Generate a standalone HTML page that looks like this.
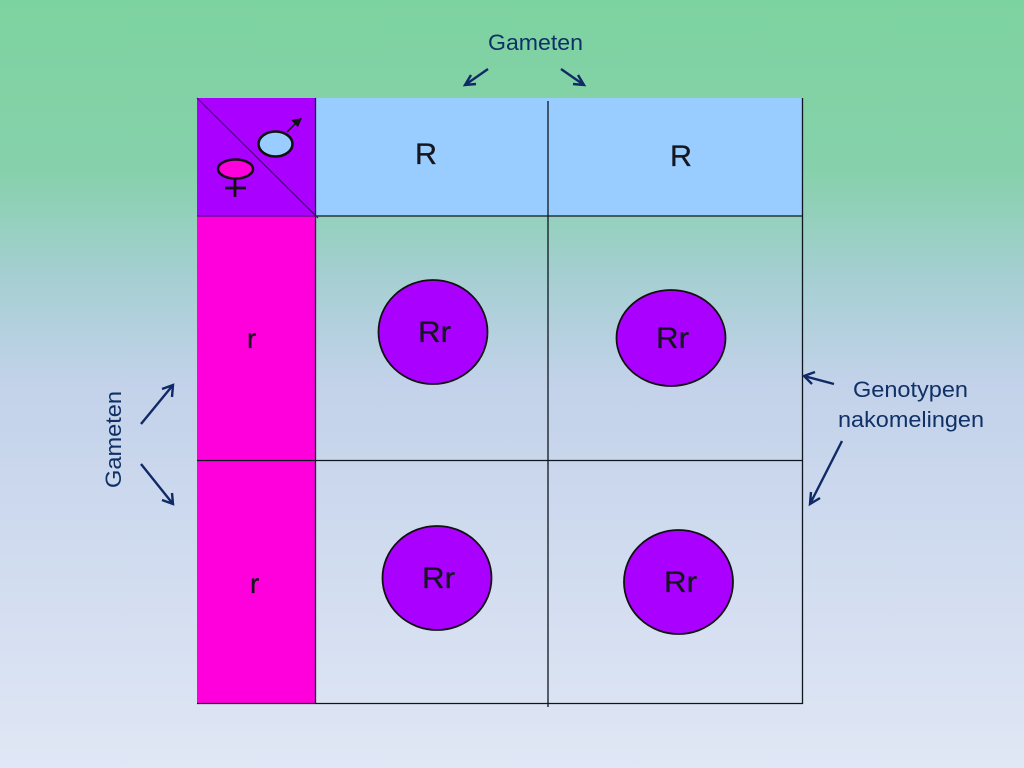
<!DOCTYPE html>
<html>
<head>
<meta charset="utf-8">
<style>
html,body{margin:0;padding:0;width:1024px;height:768px;overflow:hidden}
svg{display:block}
text{font-family:"Liberation Sans",sans-serif}
</style>
</head>
<body>
<svg width="1024" height="768" viewBox="0 0 1024 768" xmlns="http://www.w3.org/2000/svg">
<defs>
<linearGradient id="bg" x1="0" y1="0" x2="0" y2="1">
<stop offset="0" stop-color="#7dd3a0"/>
<stop offset="0.22" stop-color="#86d1ab"/>
<stop offset="0.36" stop-color="#a5cfd2"/>
<stop offset="0.5" stop-color="#c3d2ea"/>
<stop offset="1" stop-color="#e0e7f5"/>
</linearGradient>
</defs>
<rect width="1024" height="768" fill="url(#bg)"/>

<!-- header and side fills -->
<rect x="316" y="98" width="487" height="118" fill="#99ccff"/>
<rect x="197" y="98" width="119" height="118" fill="#aa00ff"/>
<rect x="197" y="216" width="119" height="488" fill="#ff00dd"/>

<!-- grid -->
<g stroke="#10161f" stroke-width="1.300" fill="none">
<line x1="548" y1="101" x2="548" y2="707"/>
<line x1="316" y1="216" x2="803" y2="216"/>
<line x1="197" y1="460.500" x2="803" y2="460.500"/>
<line x1="197" y1="703.500" x2="803" y2="703.500"/>
<line x1="315.500" y1="98" x2="315.500" y2="704"/>
<line x1="802.500" y1="98" x2="802.500" y2="704"/>
</g>
<line x1="197" y1="216" x2="316" y2="216" stroke="#6a0a9a" stroke-width="1.500"/>
<line x1="197" y1="98" x2="318" y2="218" stroke="#4a0a7a" stroke-width="1.200"/>

<!-- male symbol -->
<ellipse cx="275.500" cy="144" rx="17" ry="12.500" fill="#99ccff" stroke="#111" stroke-width="2.600"/>
<line x1="287" y1="132" x2="297" y2="122" stroke="#111" stroke-width="1.500"/>
<polygon points="302,118 291,120 298,127" fill="#111"/>

<!-- female symbol -->
<ellipse cx="235.500" cy="169" rx="17.500" ry="9.500" fill="#ff00dd" stroke="#111" stroke-width="2.600"/>
<line x1="235" y1="179" x2="235" y2="197" stroke="#111" stroke-width="2.800"/>
<line x1="225" y1="188" x2="246" y2="188" stroke="#111" stroke-width="2.800"/>

<!-- circles -->
<g fill="#aa00ff" stroke="#111" stroke-width="1.800">
<ellipse cx="433" cy="332" rx="54.500" ry="52"/>
<ellipse cx="671" cy="338" rx="54.500" ry="48"/>
<ellipse cx="437" cy="578" rx="54.500" ry="52"/>
<ellipse cx="678.500" cy="582" rx="54.500" ry="52"/>
</g>

<!-- cell labels -->
<g fill="#16161f" font-size="30" stroke="#16161f" stroke-width="0.300">
<text x="415" y="164" textLength="22" lengthAdjust="spacingAndGlyphs">R</text>
<text x="670" y="166" textLength="22" lengthAdjust="spacingAndGlyphs">R</text>
<text x="247" y="348" font-size="28">r</text>
<text x="250" y="593" font-size="28">r</text>
<text x="418" y="342" textLength="33" lengthAdjust="spacingAndGlyphs">Rr</text>
<text x="656" y="348" textLength="33" lengthAdjust="spacingAndGlyphs">Rr</text>
<text x="422" y="588" textLength="33" lengthAdjust="spacingAndGlyphs">Rr</text>
<text x="664" y="592" textLength="33" lengthAdjust="spacingAndGlyphs">Rr</text>
</g>

<!-- blue text -->
<g fill="#0f3166" font-size="22.500">
<text x="488" y="50" textLength="95" lengthAdjust="spacingAndGlyphs">Gameten</text>
<text x="853" y="397" textLength="115" lengthAdjust="spacingAndGlyphs">Genotypen</text>
<text x="838" y="427" textLength="146" lengthAdjust="spacingAndGlyphs">nakomelingen</text>
<text transform="translate(121,488) rotate(-90)" textLength="97" lengthAdjust="spacingAndGlyphs">Gameten</text>
</g>

<!-- arrows -->
<g stroke="#0f2a66" stroke-width="2.400" fill="none">
<path d="M488 69L465 85M476 84L465 85L471 75"/>
<path d="M561 69L584 85M573 84L584 85L578 75"/>
<path d="M141 424L173 385M162 389L173 385L172 397"/>
<path d="M141 464L173 504M162 500L173 504L172 493"/>
<path d="M834 384L804 376M815 372L804 376L812 384"/>
<path d="M842 441L810 504M811 492L810 504L820 498"/>
</g>
</svg>
</body>
</html>
